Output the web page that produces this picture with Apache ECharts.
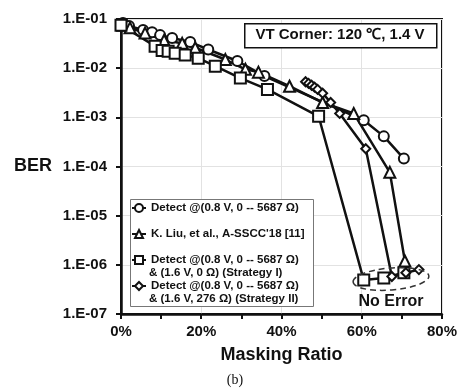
<!DOCTYPE html>
<html><head><meta charset="utf-8">
<script src="https://cdn.jsdelivr.net/npm/echarts@6/dist/echarts.min.js"></script>
<style>html,body{margin:0;padding:0;background:#fff;}#c{width:460px;height:389px;}</style>
</head><body><div id="c"></div>
<script>
const maskCircle = [0.5, 2, 5.5, 7.75, 9.75, 12.75, 17.25, 21.75, 29, 35.75, 60.5, 65.5, 70.5];
const berCircle  = [8.3e-2, 7.2e-2, 6.0e-2, 5.4e-2, 4.7e-2, 4.1e-2, 3.4e-2, 2.4e-2, 1.4e-2, 6.9e-3, 8.7e-4, 4.1e-4, 1.45e-4];

const maskTri = [0.5, 2.25, 6, 10.75, 15.25, 18.5, 26, 31, 34.25, 42, 50.25, 58, 67, 70.75];
const berTri  = [7.5e-2, 6.6e-2, 5.2e-2, 3.7e-2, 3.2e-2, 2.6e-2, 1.5e-2, 9.5e-3, 8.3e-3, 4.3e-3, 2.0e-3, 1.2e-3, 7.6e-5, 1.2e-6];

const maskSq = [0, 8.5, 10.25, 11.75, 13.5, 16, 19.25, 23.5, 29.75, 36.5, 49.25, 60.5, 65.5, 70.5];
const berSq  = [7.5e-2, 2.8e-2, 2.3e-2, 2.2e-2, 2.0e-2, 1.85e-2, 1.6e-2, 1.1e-2, 6.3e-3, 3.7e-3, 1.05e-3, 4.9e-7, 5.4e-7, 6.9e-7];

const maskDia = [46, 46.75, 47.5, 48.25, 49, 50.25, 52.25, 54.5, 61, 67.5, 71, 74.25];
const berDia  = [5.3e-3, 4.9e-3, 4.5e-3, 4.1e-3, 3.7e-3, 3.1e-3, 2.0e-3, 1.2e-3, 2.3e-4, 5.8e-7, 6.9e-7, 8.0e-7];

const names = [
  'Detect @(0.8 V, 0 -- 5687 Ω)',
  'K. Liu, et al., A-SSCC\'18 [11]',
  'Detect @(0.8 V, 0 -- 5687 Ω) ',
  'Detect @(0.8 V, 0 -- 5687 Ω)  '
];
const secondLines = ['& (1.6 V, 0 Ω) (Strategy I)', '& (1.6 V, 276 Ω) (Strategy II)'];
const xTicks = [0, 20, 40, 60, 80];

const zip = (a, b) => a.map((v, i) => [v, b[i]]);
const FONT = '"Liberation Sans", Arial, sans-serif';

function mkSeries(name, x, y, symbol, size) {
  return {
    name, type: 'line', data: zip(x, y), symbol, symbolSize: size,
    lineStyle: { color: '#111', width: 2.5 },
    itemStyle: { color: '#fff', borderColor: '#111', borderWidth: 2 },
    emphasis: { disabled: true }, animation: false, z: 3
  };
}

const chart = echarts.init(document.getElementById('c'));
chart.setOption({
  backgroundColor: '#fff',
  animation: false,
  grid: { left: 121, right: 18, top: 19, bottom: 75, show: true, borderColor: '#111', borderWidth: 2 },
  xAxis: {
    type: 'value', min: 0, max: 80, interval: 20,
    axisLine: { lineStyle: { color: '#111', width: 2.5 } },
    axisTick: { show: true, length: 5, lineStyle: { color: '#111', width: 2 } },
    minorTick: { show: true, splitNumber: 2, length: 5, lineStyle: { color: '#111', width: 2 } },
    splitLine: { show: true, lineStyle: { color: '#e2e2e2', width: 1 } },
    axisLabel: { margin: 10, color: '#111', fontFamily: FONT, fontWeight: 'bold', fontSize: 15,
      formatter: v => xTicks.includes(v) ? v + '%' : '' },
    name: 'Masking Ratio', nameLocation: 'middle', nameGap: 32,
    nameTextStyle: { color: '#111', fontFamily: FONT, fontWeight: 'bold', fontSize: 18 }
  },
  yAxis: {
    type: 'log', logBase: 10, min: 1e-7, max: 1e-1,
    axisLine: { show: true, lineStyle: { color: '#111', width: 2.5 } },
    axisTick: { show: true, length: 5, lineStyle: { color: '#111', width: 2 } },
    splitLine: { show: true, lineStyle: { color: '#e2e2e2', width: 1 } },
    axisLabel: { margin: 14, color: '#111', fontFamily: FONT, fontWeight: 'bold', fontSize: 15,
      formatter: v => '1.E-0' + (-Math.round(Math.log10(v))) },
    name: 'BER', nameLocation: 'middle', nameGap: 69, nameRotate: 0,
    nameTextStyle: { color: '#111', fontFamily: FONT, fontWeight: 'bold', fontSize: 18 }
  },
  legend: {
    orient: 'vertical', left: 131, top: 201, padding: 0, itemWidth: 14, itemHeight: 10, itemGap: 12,
    data: names,
    textStyle: { color: '#111', fontFamily: FONT, fontWeight: 'bold', fontSize: 11.5, lineHeight: 14 },
    selectedMode: false, z: 10
  },
  graphic: [
    { type: 'rect', left: 130, top: 199, z: 5, shape: { width: 183, height: 107 },
      style: { fill: '#fff', stroke: '#777', lineWidth: 1 } },
    { type: 'text', left: 149, top: 267, z: 11, style: { text: secondLines[0], fill: '#111', font: 'bold 11.5px ' + FONT } },
    { type: 'text', left: 149, top: 293, z: 11, style: { text: secondLines[1], fill: '#111', font: 'bold 11.5px ' + FONT } },
    { type: 'rect', left: 244, top: 23, z: 5, shape: { width: 192, height: 24 },
      style: { fill: '#fff', stroke: '#111', lineWidth: 1.5 } },
    { type: 'text', x: 340, y: 35, z: 6, style: { text: 'VT Corner: 120 ℃, 1.4 V', fill: '#111', font: 'bold 15px ' + FONT, align: 'center', verticalAlign: 'middle' } },
    { type: 'ellipse', z: 6, x: 391, y: 279, rotation: 0.08, shape: { cx: 0, cy: 0, rx: 38, ry: 11 },
      style: { fill: 'none', stroke: '#333', lineWidth: 1.5, lineDash: [6, 4] } },
    { type: 'text', x: 391, y: 302, z: 6, style: { text: 'No Error', fill: '#111', font: 'bold 16px ' + FONT, align: 'center', verticalAlign: 'middle' } },
    { type: 'text', x: 235, y: 380, z: 6, style: { text: '(b)', fill: '#111', font: '14px "Liberation Serif", "Times New Roman", serif', align: 'center', verticalAlign: 'middle' } }
  ],
  series: [
    mkSeries(names[0], maskCircle, berCircle, 'circle', 10),
    mkSeries(names[1], maskTri, berTri, 'triangle', 11),
    mkSeries(names[2], maskSq, berSq, 'rect', 11),
    mkSeries(names[3], maskDia, berDia, 'diamond', 9)
  ]
});
</script></body></html>
